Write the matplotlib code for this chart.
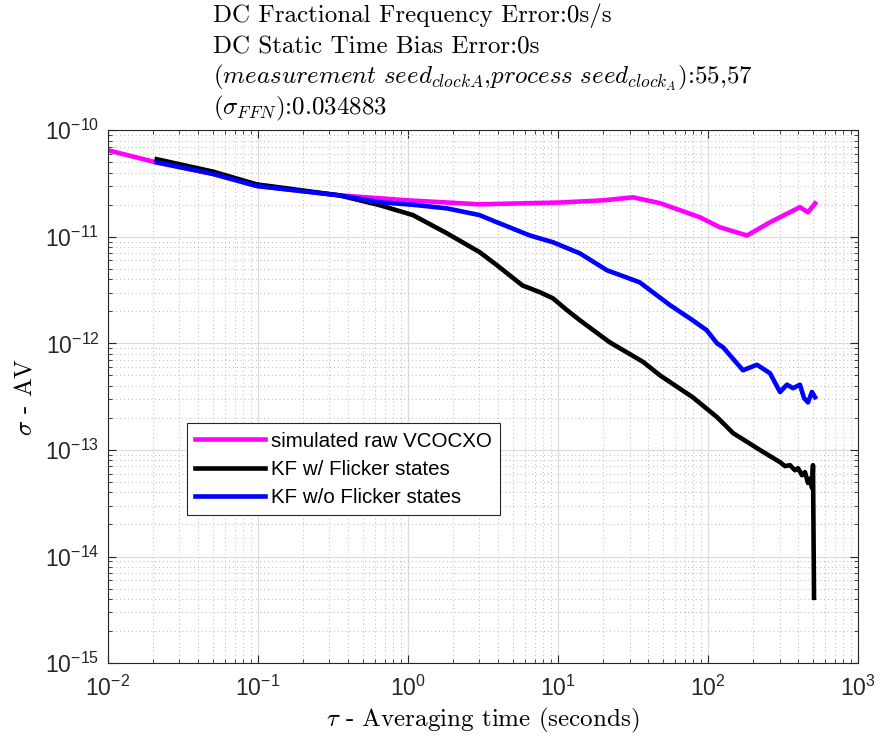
# Allan deviation of simulated VCOCXO vs Kalman filter estimates (log-log)

import numpy as np
import matplotlib
matplotlib.use('Agg')
import matplotlib.pyplot as plt
from matplotlib.ticker import LogLocator, FuncFormatter, NullFormatter

plt.rcParams['font.family'] = ['Liberation Sans', 'DejaVu Sans']
plt.rcParams['mathtext.fontset'] = 'cm'

# data
tau_raw = [0.01, 0.021, 0.05, 0.1, 0.35, 1.0, 3.0, 6.5, 10.3, 20, 31.6, 48, 88,
           120, 182, 259, 410, 464, 517]
sig_raw = [6.5e-11, 5.0e-11, 3.9e-11, 3.0e-11, 2.45e-11, 2.2e-11, 2.02e-11,
           2.07e-11, 2.1e-11, 2.2e-11, 2.35e-11, 2.07e-11, 1.53e-11, 1.23e-11,
           1.03e-11, 1.37e-11, 1.9e-11, 1.7e-11, 2.06e-11]

tau_kf = [0.0212, 0.05, 0.098, 0.35, 0.65, 1.08, 1.82, 3.0, 3.92, 5.8, 7.6,
          9.26, 11.5, 14, 22, 37, 48, 79, 115, 147, 222, 302, 326, 352, 380,
          398, 423, 443, 464, 479, 494, 501, 509]
sig_kf = [5.35e-11, 4.1e-11, 3.11e-11, 2.45e-11, 1.98e-11, 1.6e-11, 1.08e-11,
          7.2e-12, 5.42e-12, 3.5e-12, 3.02e-12, 2.65e-12, 2.05e-12, 1.65e-12,
          1.03e-12, 6.7e-13, 5.0e-13, 3.13e-13, 2.03e-13, 1.44e-13, 1.0e-13,
          7.69e-14, 7.05e-14, 7.2e-14, 6.45e-14, 6.75e-14, 5.8e-14, 6.2e-14,
          4.9e-14, 5.4e-14, 4.4e-14, 7.2e-14, 4.1e-15]

tau_nof = [0.0212, 0.05, 0.098, 0.35, 0.65, 1.08, 1.82, 3.0, 3.92, 6.5, 9.26,
           14, 21.2, 35, 56, 79, 98, 115, 126, 171, 212, 259, 302, 336, 369,
           410, 437, 464, 493, 517]
sig_nof = [5.0e-11, 3.9e-11, 3.0e-11, 2.45e-11, 2.11e-11, 2.0e-11, 1.85e-11,
           1.6e-11, 1.37e-11, 1.03e-11, 8.9e-12, 7.0e-12, 4.86e-12, 3.75e-12,
           2.28e-12, 1.65e-12, 1.33e-12, 1.0e-12, 9.2e-13, 5.6e-13, 6.3e-13,
           5.25e-13, 3.5e-13, 4.1e-13, 3.8e-13, 4.1e-13, 3.06e-13, 2.8e-13,
           3.5e-13, 3.13e-13]

labels = ['simulated raw VCOCXO', 'KF w/ Flicker states', 'KF w/o Flicker states']
colors = ['#ff00ff', '#000000', '#0000ff']

fig = plt.figure(figsize=(8.91, 7.36), dpi=100)
ax = fig.add_axes([0.121, 0.099, 0.842, 0.724])

ax.loglog(tau_raw, sig_raw, color=colors[0], lw=3.3, label=labels[0])
ax.loglog(tau_kf, sig_kf, color=colors[1], lw=3.3, label=labels[1])
ax.loglog(tau_nof, sig_nof, color=colors[2], lw=3.3, label=labels[2])

ax.set_xlim(1e-2, 1e3)
ax.set_ylim(1e-15, 1e-10)

for axis in (ax.xaxis, ax.yaxis):
    axis.set_major_locator(LogLocator(base=10, numticks=20))
    axis.set_minor_locator(LogLocator(base=10, subs=np.arange(2, 10), numticks=20))
    axis.set_major_formatter(FuncFormatter(
        lambda v, p: r'$\mathregular{10^{%d}}$' % round(np.log10(v))))
    axis.set_minor_formatter(NullFormatter())

ax.grid(True, which='major', color='#dcdcdc', lw=0.9, ls='-')
ax.grid(True, which='minor', color='#b8b8b8', lw=0.7, ls=(0, (1, 3)))
ax.set_axisbelow(True)

ax.tick_params(which='both', direction='in', top=True, right=True,
               colors='#262626', labelcolor='#262626', labelsize=16.5)
ax.tick_params(which='major', length=6, width=0.8)
ax.tick_params(which='minor', length=3, width=0.6)
ax.tick_params(axis='x', which='major', pad=9)
ax.tick_params(axis='y', which='major', pad=6)
for s in ax.spines.values():
    s.set_color('#262626')
    s.set_linewidth(0.8)

ax.set_xlabel(r'$\tau$ - Averaging time (seconds)', fontfamily='cmr10',
              fontsize=18, labelpad=4)
ax.set_ylabel(r'$\sigma$ - $\mathrm{AV}$', fontfamily='cmr10', fontsize=18,
              labelpad=6)

leg = ax.legend(loc='upper left', bbox_to_anchor=(0.105, 0.45), borderaxespad=0,
                fontsize=14.8, handlelength=3.4, handletextpad=0.3,
                labelspacing=0.45, fancybox=False, edgecolor='#262626',
                framealpha=1, borderpad=0.4)
leg.get_frame().set_linewidth(0.8)

title_lines = ['DC Fractional Frequency Error:0s/s',
               'DC Static Time Bias Error:0s',
               r'$(measurement\ seed_{clockA}$,$process\ seed_{clock_A})$:55,57',
               r'$(\sigma_{FFN})$:0.034883']
baselines = [22, 53, 84, 114]
for txt, b in zip(title_lines, baselines):
    fig.text(213 / 891, 1 - b / 736, txt, fontfamily='cmr10', fontsize=18,
             ha='left', va='baseline')

fig.savefig('out.png', dpi=100)
